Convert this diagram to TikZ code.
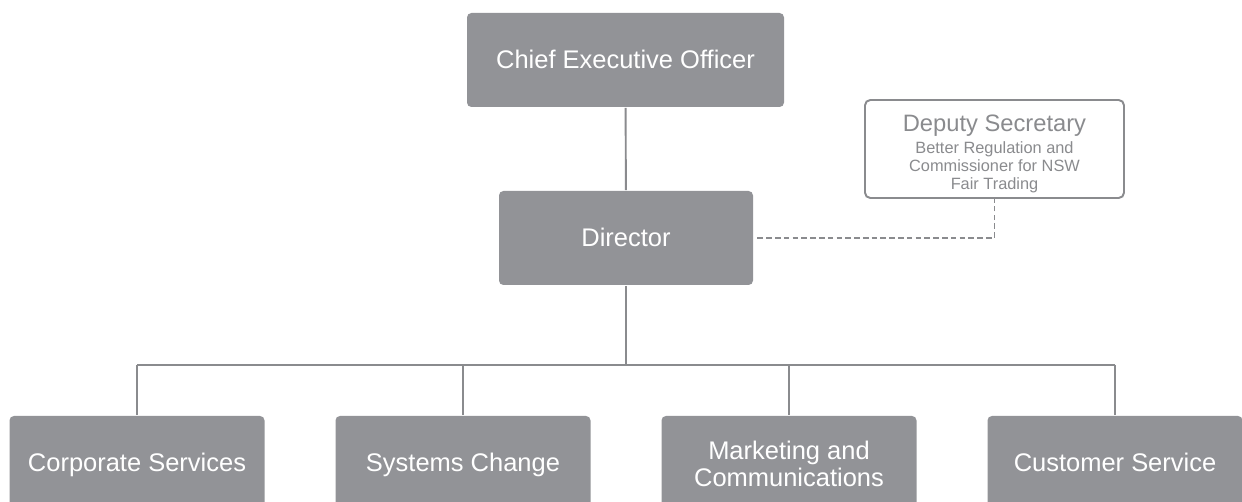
\documentclass[tikz,border=0pt]{standalone}
\usepackage{fontspec}
\setmainfont{Liberation Sans}
\definecolor{boxgrey}{RGB}{146,147,151}
\definecolor{linegrey}{RGB}{138,139,142}
\begin{document}
\begin{tikzpicture}[line width=1.1pt, draw=linegrey,
        unit/.style={fill=boxgrey, draw=none, rounded corners=2.5pt, text=white, align=center,
            inner sep=0pt, minimum height=1.88cm, text height=12.4pt, text depth=2.5pt,
            font=\fontsize{14.5}{15.5}\selectfont},
        deputybox/.style={draw=linegrey, fill=white, rounded corners=3pt, text=linegrey, align=center,
            inner sep=0pt, minimum width=5.18cm, minimum height=1.96cm, text height=48.8pt, text depth=2.5pt,
            font=\fontsize{9.3}{10.2}\selectfont},
        dotlink/.style={line width=0.8pt, dash pattern=on 3.2pt off 1.8pt}]
            \clip (0,0) rectangle (24.84,10.04);
            \node[unit, minimum width=6.34cm] (ceo) at (12.51,8.84) {Chief Executive Officer};
            \node[unit, minimum width=5.08cm] (director) at (12.52,5.28) {Director};
            \node[deputybox] (deputy) at (19.89,7.06) {{\fontsize{13.5}{15}\selectfont Deputy Secretary}\\[2.4pt]
                Better Regulation and\\Commissioner for NSW\\Fair Trading};
            \node[unit, minimum width=5.10cm] (corporate) at (2.74,0.78) {Corporate Services};
            \node[unit, minimum width=5.10cm] (systems) at (9.26,0.78) {Systems Change};
            \node[unit, minimum width=5.10cm, text height=29.3pt] (marketing) at (15.78,0.78) {Marketing and\\Communications};
            \node[unit, minimum width=5.10cm] (customer) at (22.30,0.78) {Customer Service};
            \coordinate (bus) at (12.52,2.74);
            
            \draw (ceo) -- (director);
            \draw (director) -- (bus);
            \draw (corporate.north |- bus) -- (customer.north |- bus);
            \foreach \unitname in {corporate,systems,marketing,customer}
                \draw (\unitname.north |- bus) -- (\unitname.north);
            \draw[dotlink, shorten <=2pt] (director.east) -| (deputy.south);
        \end{tikzpicture}
\end{document}
